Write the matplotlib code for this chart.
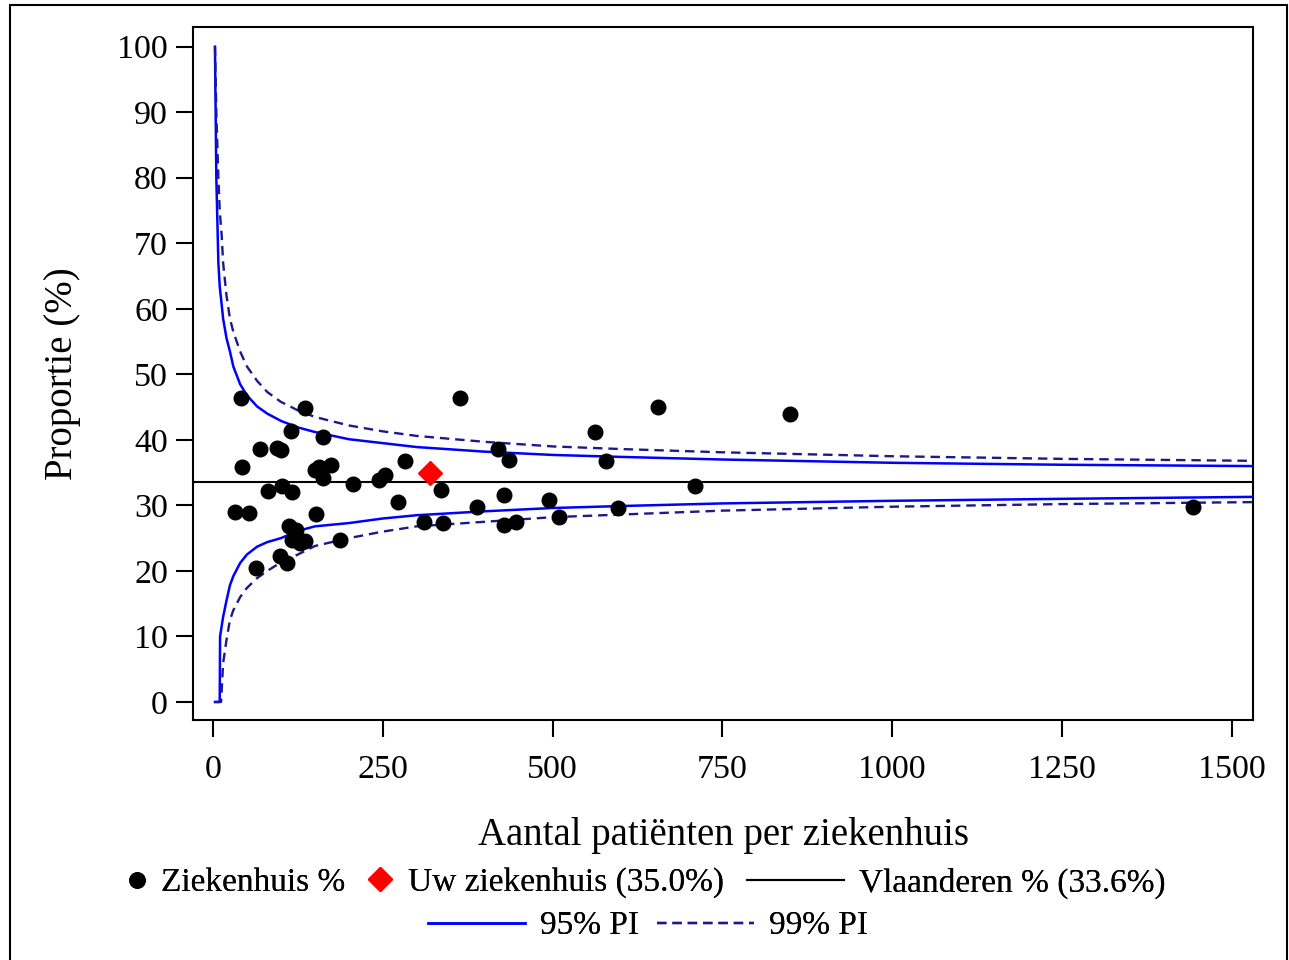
import matplotlib
matplotlib.use("Agg")
import matplotlib.pyplot as plt
from matplotlib.lines import Line2D
from matplotlib.patches import Rectangle

# Hospitals: number of patients and proportion (%)
hosp_n = [41, 43, 32, 53, 64, 70, 81, 94, 100, 101, 99, 109, 112, 115, 117, 123, 117,
          128, 135, 135, 150, 152, 156, 162, 162, 174, 187, 206, 244, 253, 272, 282,
          310, 336, 339, 363, 388, 419, 429, 429, 436, 446, 494, 510, 563, 578, 596,
          655, 709, 849, 1442]
hosp_pct = [46.4, 35.8, 29.0, 28.9, 20.4, 38.6, 32.2, 38.7, 38.4, 33.0, 22.3, 21.2, 26.9,
            41.3, 32.0, 26.3, 24.7, 24.3, 24.5, 44.9, 35.4, 28.7, 35.8, 40.4, 34.2, 36.1,
            24.7, 33.2, 33.9, 34.7, 30.5, 36.7, 27.4, 32.3, 27.3, 46.4, 29.8, 38.6, 31.6,
            27.0, 36.9, 27.4, 30.8, 28.3, 41.2, 36.7, 29.6, 45.0, 33.0, 43.9, 29.7]

own_n = [320]
own_pct = [35.0]
flanders_pct = 33.6

# prediction interval limits
up95_n = [3, 5, 8, 10, 13, 15, 20, 25, 30, 40, 50, 65, 80, 100, 125, 150, 200, 250, 300,
          400, 500, 600, 750, 1000, 1250, 1530]
up95 = [100, 80, 67, 63.4, 60.5, 58.5, 55.5, 53.5, 51.2, 48.5, 46.8, 45.1, 44.0, 42.9,
        41.9, 41.2, 40.1, 39.5, 38.9, 38.2, 37.7, 37.4, 37.0, 36.5, 36.2, 36.0]
up99_n = up95_n
up99 = [100, 90, 80, 75, 71, 67, 62, 58.5, 56.5, 53.5, 51.2, 49.0, 47.3, 45.8, 44.5,
        43.5, 42.2, 41.3, 40.6, 39.7, 39.0, 38.6, 38.1, 37.5, 37.1, 36.8]
lo95_n = [3, 10, 10.5, 15, 18, 20, 25, 30, 40, 50, 65, 80, 100, 125, 150, 200, 250, 300,
          400, 500, 600, 750, 1000, 1250, 1530]
lo95 = [0, 0, 10, 13, 14.5, 15.5, 17.8, 19.2, 21.2, 22.5, 23.7, 24.4, 25.0, 26.1, 26.8,
        27.3, 28.0, 28.5, 29.1, 29.6, 29.9, 30.3, 30.7, 31.0, 31.3]
lo99_n = [3, 12, 15, 20, 25, 30, 40, 50, 65, 80, 100, 125, 150, 200, 250, 300, 400, 500,
          600, 750, 1000, 1250, 1530]
lo99 = [0, 0, 5.9, 9.5, 12.5, 14, 16, 17.4, 18.9, 20.0, 21.3, 22.5, 23.8, 25.0, 26.0,
        26.8, 27.5, 28.2, 28.6, 29.2, 29.8, 30.2, 30.5]

xticks = [0, 250, 500, 750, 1000, 1250, 1500]
yticks = [0, 10, 20, 30, 40, 50, 60, 70, 80, 90, 100]

plt.rcParams['font.family'] = ['Liberation Serif', 'DejaVu Serif']

W, H = 1289, 960
fig = plt.figure(figsize=(W / 100, H / 100), dpi=100)
ax = fig.add_axes([0.1497, 0.25, 0.8224, 0.7222])

blue = '#0000FF'
navy = '#1A1A8C'
dash = (4, 2.5)

ax.axhline(flanders_pct, color='black', lw=1.5, zorder=2)
ax.plot(up95_n, up95, color=blue, lw=1.8, zorder=3)
ax.plot(lo95_n, lo95, color=blue, lw=1.8, zorder=3)
ax.plot(up99_n, up99, color=navy, lw=1.7, dashes=dash, zorder=3)
ax.plot(lo99_n, lo99, color=navy, lw=1.7, dashes=dash, zorder=3)
ax.plot(hosp_n, hosp_pct, 'o', color='black', ms=10.5, zorder=4)
ax.plot(own_n, own_pct, 'D', color='#FF0000', ms=12, zorder=5)

ax.set_xlim(-29.4, 1531)
ax.set_ylim(-2.75, 103.05)
ax.set_xticks(xticks)
ax.set_yticks(yticks)
ax.tick_params(direction='out', length=12, width=1.5, labelsize=24.5, pad=6)
ax.tick_params(axis='x', pad=13)
for s in ax.spines.values():
    s.set_linewidth(1.5)

ax.set_xlabel('Aantal patiënten per ziekenhuis', fontsize=28, labelpad=23)
ax.set_ylabel('Proportie (%)', fontsize=28, labelpad=26)


def legend_entry(handle, label, x_px, y_px, hlen, pad):
    # one legend item, left edge of the handle at x_px
    leg = fig.legend([handle], [label], loc='center left',
                     bbox_to_anchor=(x_px / W, 1 - y_px / H), frameon=False,
                     fontsize=24, handlelength=hlen, handletextpad=pad,
                     borderpad=0, borderaxespad=0)
    fig.add_artist(leg)


legend_entry(Line2D([], [], ls='none', marker='o', color='black', ms=11),
             'Ziekenhuis %', 126, 883, 0.66, 0.4)
legend_entry(Line2D([], [], ls='none', marker='D', color='#FF0000', ms=12),
             'Uw ziekenhuis (35.0%)', 367, 883, 0.78, 0.45)
legend_entry(Line2D([], [], color='black', lw=1.5),
             'Vlaanderen % (33.6%)', 747, 883, 2.9, 0.45)
legend_entry(Line2D([], [], color=blue, lw=1.8),
             '95% PI', 428, 926, 2.9, 0.45)
legend_entry(Line2D([], [], color=navy, lw=1.7, dashes=dash),
             '99% PI', 657, 926, 2.9, 0.45)

# outer border
fig.add_artist(Rectangle((10 / W, -0.01), 1277 / W, 1.01 - 5 / H,
                         transform=fig.transFigure, fill=False, lw=1.5, color='black'))

fig.savefig('out.png', dpi=100)
